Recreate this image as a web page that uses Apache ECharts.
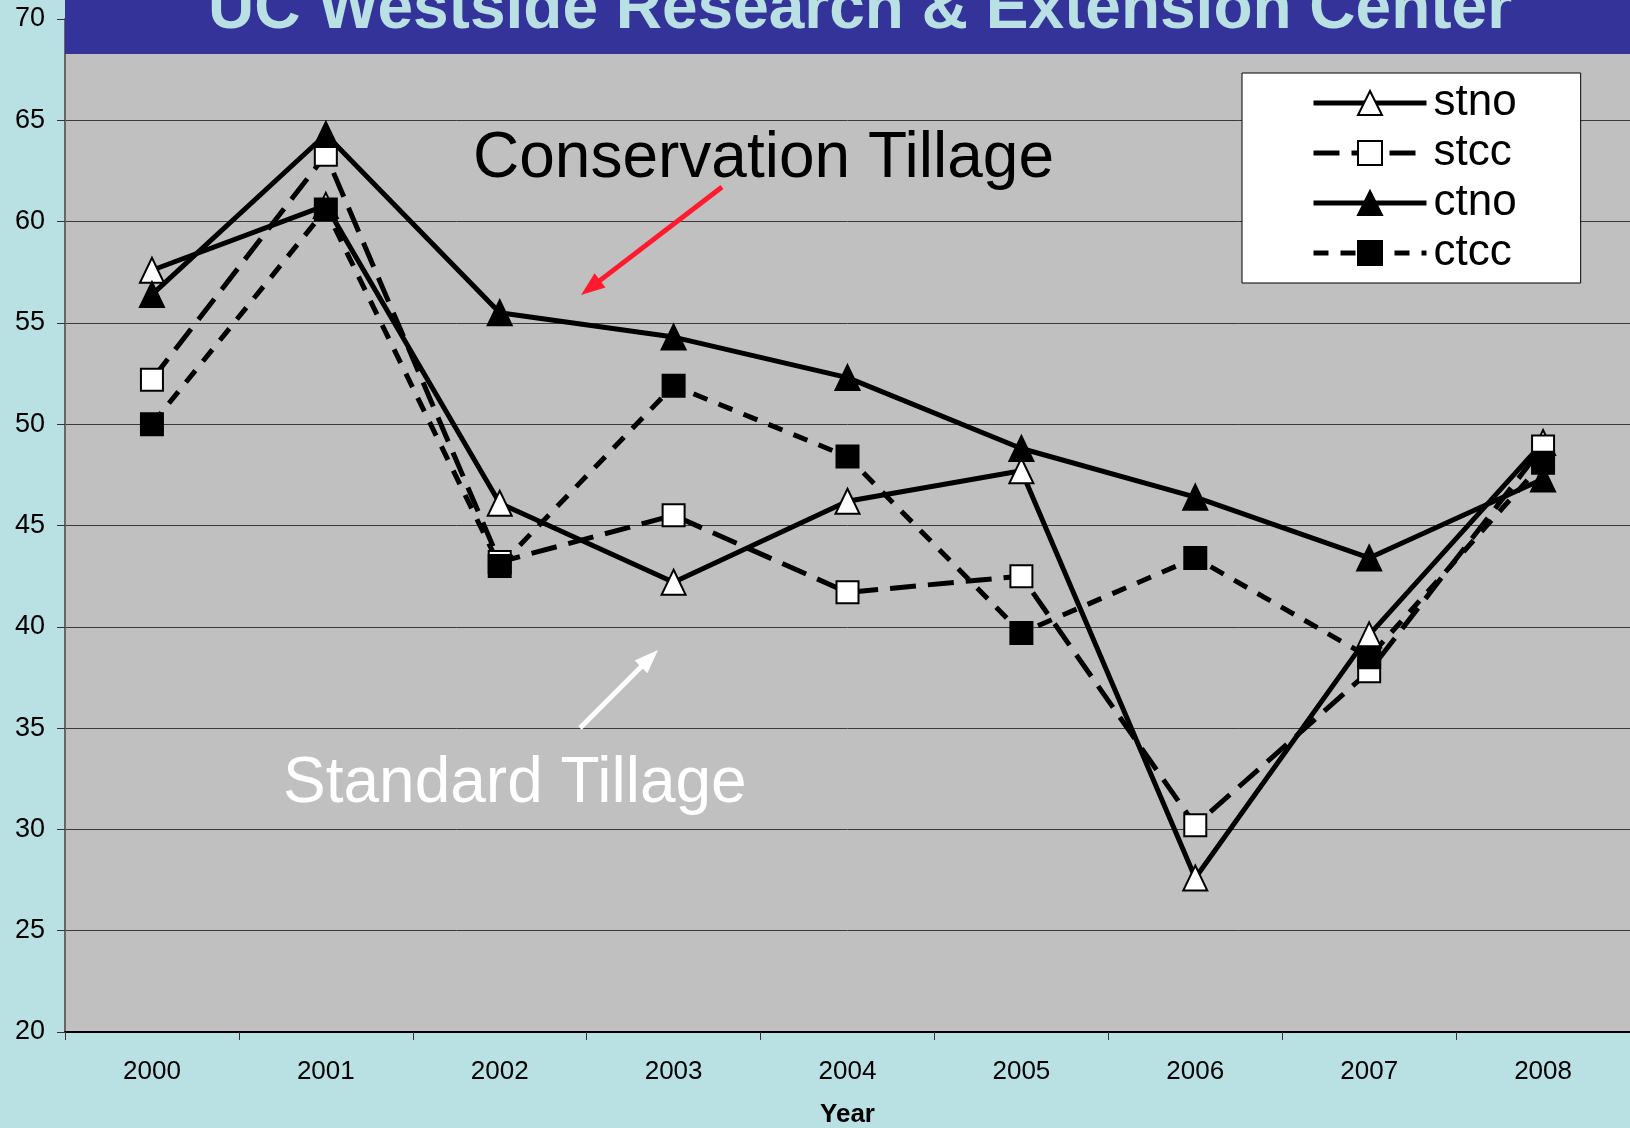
<!DOCTYPE html>
<html>
<head>
<meta charset="utf-8">
<script src="https://cdn.jsdelivr.net/npm/echarts@6/dist/echarts.min.js"></script>
<style>
html, body { margin: 0; padding: 0; background: #b9e0e3; }
#chart { width: 1630px; height: 1128px; }
</style>
</head>
<body>
<div id="chart"></div>
<script>
var years = ['2000', '2001', '2002', '2003', '2004', '2005', '2006', '2007', '2008']
var stno = [57.6, 60.8, 46.1, 42.2, 46.2, 47.7, 27.6, 39.6, 49.1]
var stcc = [52.2, 63.3, 43.2, 45.5, 41.7, 42.5, 30.2, 37.8, 48.9]
var ctno = [56.4, 64.3, 55.5, 54.3, 52.3, 48.8, 46.4, 43.4, 47.3]
var ctcc = [50.0, 60.6, 43.0, 51.9, 48.4, 39.7, 43.4, 38.5, 48.1]
var yTicks = { min: 20, max: 70, step: 5 }

var FONT = 'Liberation Sans, Arial, sans-serif'

function makeSeries(name, data, symbol, fill, dash) {
  return {
    name: name,
    type: 'line',
    data: data,
    symbol: symbol,
    symbolSize: symbol === 'triangle' ? [24, 25] : [22, 22],
    itemStyle: { color: fill, borderColor: '#000', borderWidth: 2 },
    lineStyle: { color: '#000', width: 5, type: dash },
    emphasis: { disabled: true }
  }
}

// arrow = shaft line + filled head, from (x1,y1) to tip (x2,y2)
function arrow(x1, y1, x2, y2, color) {
  var dx = x2 - x1, dy = y2 - y1
  var len = Math.sqrt(dx * dx + dy * dy)
  var ux = dx / len, uy = dy / len
  var head = 24, half = 9
  var bx = x2 - ux * head, by = y2 - uy * head
  return [
    {
      type: 'line', z: 101,
      shape: { x1: x1, y1: y1, x2: bx + ux * 2, y2: by + uy * 2 },
      style: { stroke: color, lineWidth: 5 }
    },
    {
      type: 'polygon', z: 101,
      shape: { points: [[x2, y2], [bx - uy * half, by + ux * half], [bx + uy * half, by - ux * half]] },
      style: { fill: color }
    }
  ]
}

var series = [
  makeSeries('stno', stno, 'triangle', '#fff', 'solid'),
  makeSeries('stcc', stcc, 'rect', '#fff', [26, 12]),
  makeSeries('ctno', ctno, 'triangle', '#000', 'solid'),
  makeSeries('ctcc', ctcc, 'rect', '#000', [15, 12])
]

var graphics = [
  {
    type: 'rect',
    z: 100,
    shape: { x: 65, y: 0, width: 1565, height: 54 },
    style: { fill: '#333399' }
  },
  {
    type: 'text',
    z: 101,
    x: 860,
    y: 10,
    style: {
      text: 'UC Westside Research & Extension Center',
      fill: '#b9e0e3',
      font: 'bold 64px ' + FONT,
      align: 'center',
      verticalAlign: 'middle'
    }
  },
  {
    type: 'text',
    z: 101,
    x: 473,
    y: 159,
    style: {
      text: 'Conservation Tillage',
      fill: '#000',
      font: '64px ' + FONT,
      align: 'left',
      verticalAlign: 'middle'
    }
  },
  {
    type: 'text',
    z: 101,
    x: 283,
    y: 784,
    style: {
      text: 'Standard Tillage',
      fill: '#fff',
      font: '64px ' + FONT,
      align: 'left',
      verticalAlign: 'middle'
    }
  }
].concat(arrow(722, 187, 581, 295, '#ff1a2e'), arrow(580, 728, 658, 650, '#ffffff'))

var chart = echarts.init(document.getElementById('chart'))
chart.setOption({
  animation: false,
  backgroundColor: '#b9e0e3',
  grid: {
    left: 65,
    right: 0,
    top: 19,
    bottom: 96,
    outerBoundsMode: 'none',
    show: true,
    backgroundColor: '#c0c0c0',
    borderWidth: 0
  },
  legend: {
    left: 1242,
    top: 73,
    orient: 'vertical',
    backgroundColor: '#fff',
    borderColor: '#000',
    borderWidth: 1,
    padding: [8, 64, 8, 69],
    itemWidth: 113,
    itemHeight: 30,
    itemGap: 6,
    lineStyle: { width: 5 },
    textStyle: { fontSize: 44, fontFamily: FONT, color: '#000', lineHeight: 44, padding: [0, 0, 0, 2] },
    data: ['stno', 'stcc', 'ctno', 'ctcc']
  },
  xAxis: {
    type: 'category',
    data: years,
    boundaryGap: true,
    axisLine: { lineStyle: { color: '#000', width: 2 } },
    axisTick: { show: true, length: 8, lineStyle: { color: '#333' } },
    axisLabel: { fontSize: 26, fontFamily: FONT, color: '#000', margin: 27 },
    name: 'Year',
    nameLocation: 'middle',
    nameGap: 70,
    nameTextStyle: { fontSize: 26, fontWeight: 'bold', fontFamily: FONT, color: '#000' }
  },
  yAxis: {
    type: 'value',
    min: yTicks.min,
    max: yTicks.max,
    interval: yTicks.step,
    axisLine: { show: true, lineStyle: { color: '#666', width: 2 } },
    axisTick: { show: true, length: 8, lineStyle: { color: '#333' } },
    axisLabel: { fontSize: 27, fontFamily: FONT, color: '#000', margin: 20 },
    splitLine: { lineStyle: { color: '#3a3a3a', width: 1 } }
  },
  graphic: graphics,
  series: series
})
</script>
</body>
</html>
